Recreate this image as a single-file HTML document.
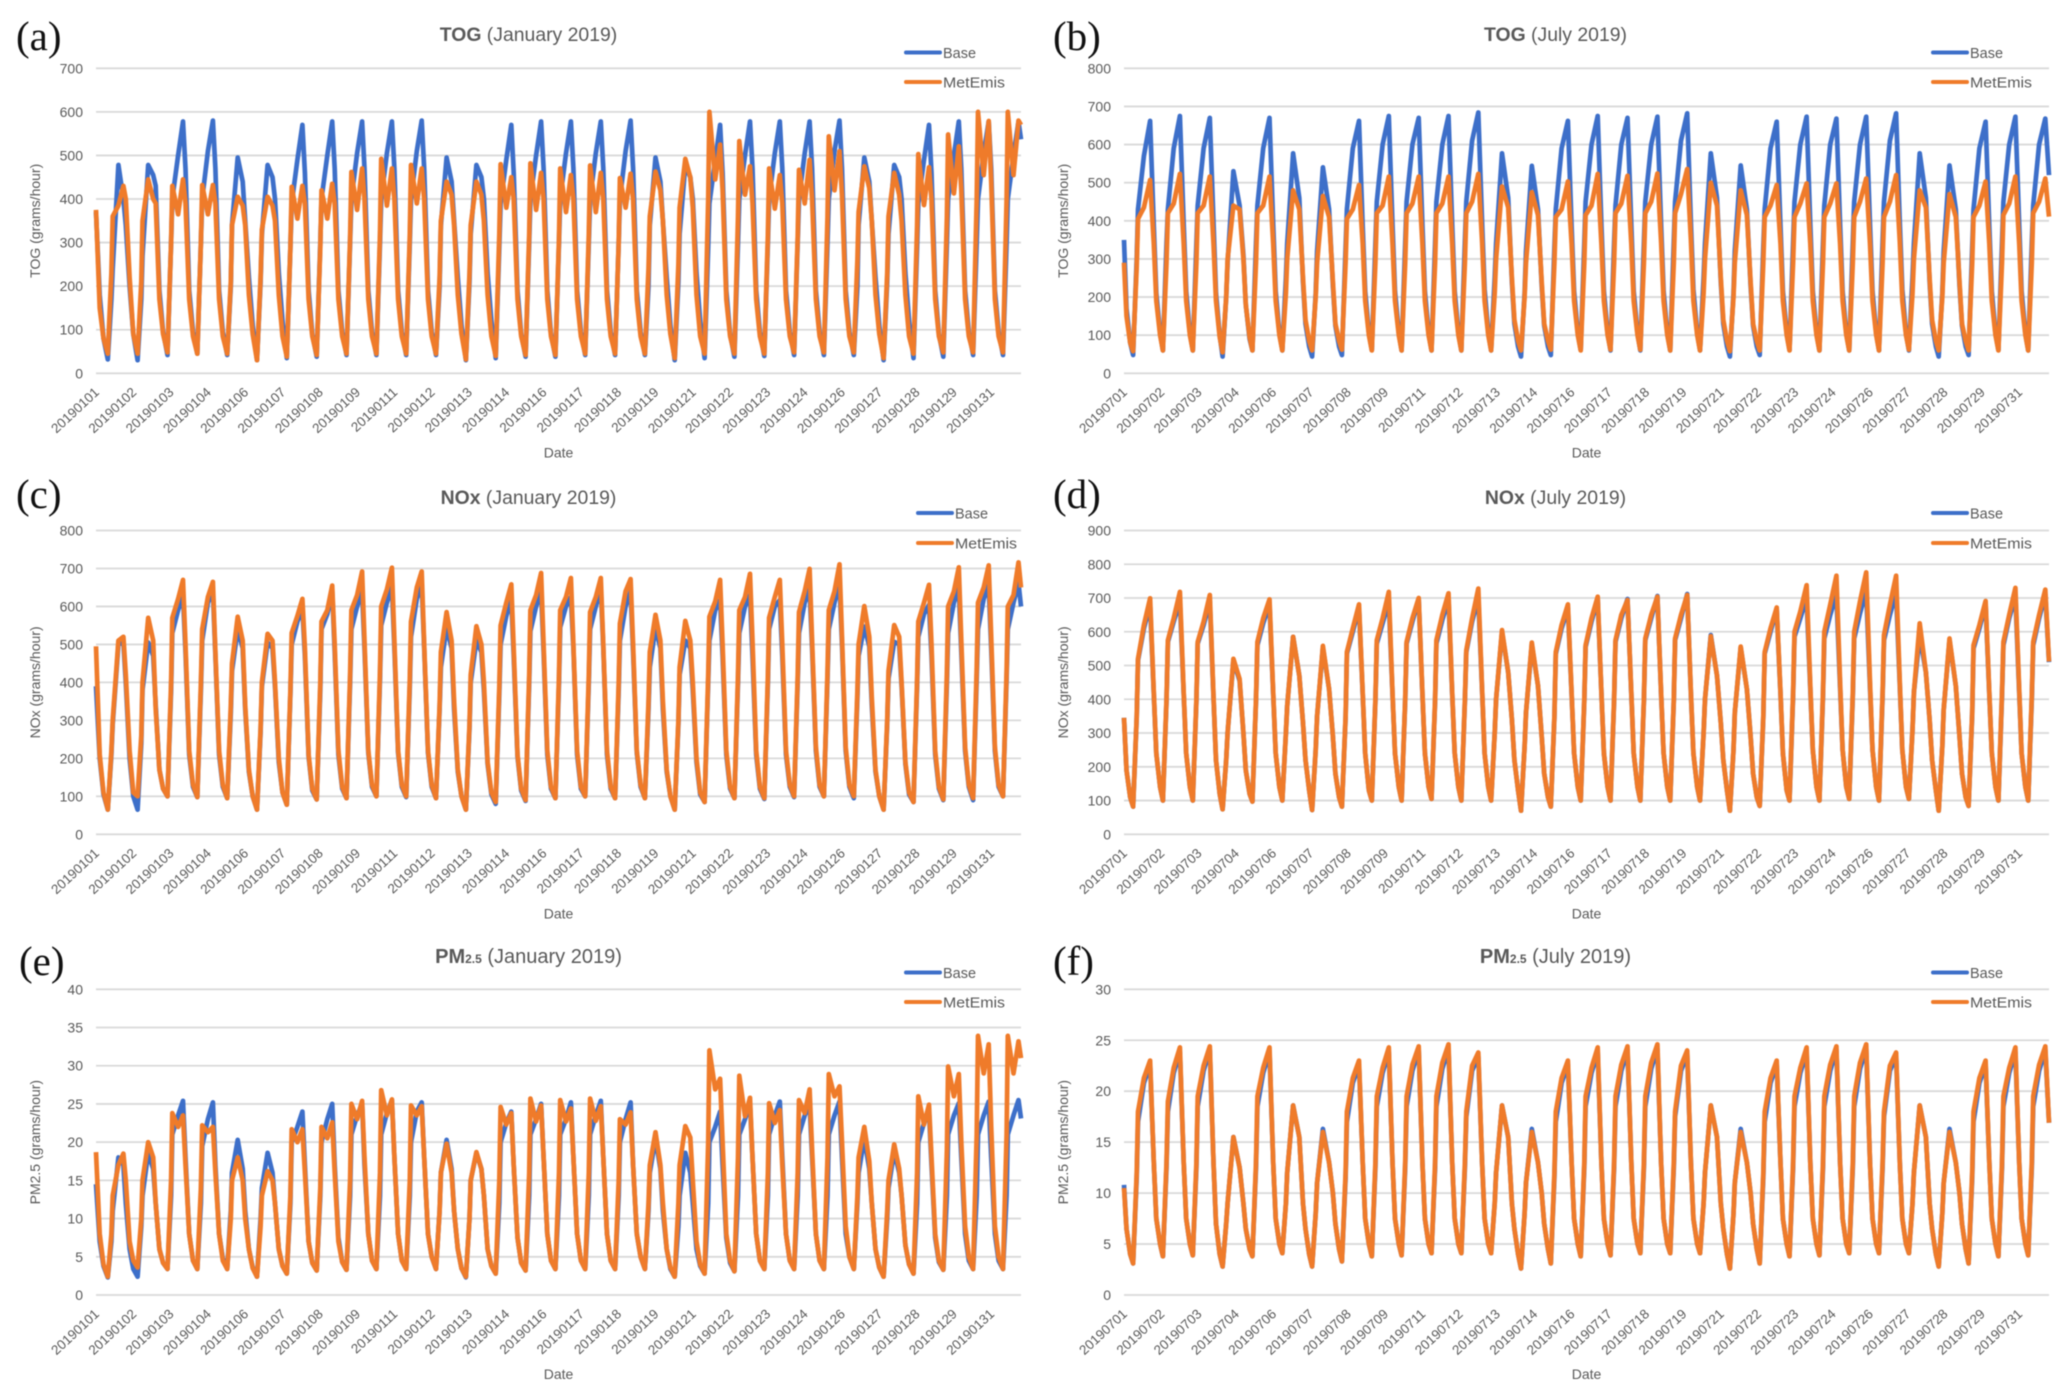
<!DOCTYPE html>
<html lang="en">
<head>
<meta charset="utf-8">
<title>TOG, NOx and PM2.5 emissions, January and July 2019</title>
<style>
html,body{margin:0;padding:0;background:#fff;}
body{width:2067px;height:1396px;overflow:hidden;}
svg{display:block;filter:blur(0.45px);}
text{font-family:"Liberation Sans",sans-serif;fill:#595959;}
.letter{font-family:"Liberation Serif",serif;font-size:41px;fill:#111;}
</style>
</head>
<body>
<svg id="figure" xmlns="http://www.w3.org/2000/svg" width="2067" height="1396" viewBox="0 0 2067 1396"></svg>
<script>
// Sample hours within each day (January and July profiles are read at their own key hours)
const janHours=[0,3,6,9.5,12.4,13.4,18,22];
const julHours=[0,2,5,7.3,10.2,11.3,16,21];
const janTicks=["20190101","20190102","20190103","20190104","20190106","20190107","20190108","20190109","20190111","20190112","20190113","20190114","20190116","20190117","20190118","20190119","20190121","20190122","20190123","20190124","20190126","20190127","20190128","20190129","20190131"];
const julTicks=["20190701","20190702","20190703","20190704","20190706","20190707","20190708","20190709","20190711","20190712","20190713","20190714","20190716","20190717","20190718","20190719","20190721","20190722","20190723","20190724","20190726","20190727","20190728","20190729","20190731"];

const togJanBase=[370,180,80,32,170,240,478,400, 340,200,90,30,170,270,478,455, 430,190,95,42,300,400,500,578, 470,190,95,45,300,400,510,580, 470,190,95,42,200,340,495,440, 350,220,110,30,210,320,478,450, 400,230,120,35,290,390,490,570, 460,190,90,38,300,400,500,578, 470,190,95,42,300,400,505,578, 470,190,95,42,300,400,505,578, 470,190,95,42,300,400,510,580, 470,190,95,42,200,340,495,440, 350,220,110,30,210,320,478,450, 400,230,120,35,290,390,490,570, 460,190,90,38,300,400,500,578, 470,190,90,38,300,400,505,578, 470,190,95,42,300,400,505,578, 470,190,95,42,300,400,510,580, 470,190,95,42,200,340,495,440, 350,220,110,30,210,320,478,450, 400,230,120,35,290,390,490,570, 460,190,90,38,300,400,500,578, 470,190,95,40,300,400,505,578, 470,190,95,42,300,400,505,578, 470,190,95,42,300,400,510,580, 470,190,95,42,200,340,495,440, 350,220,110,30,210,320,478,450, 400,230,120,35,290,390,490,570, 460,190,90,38,300,400,500,578, 470,190,95,42,300,400,505,578, 470,190,95,42,300,400,500,578, 537];
const togJanMetEmis=[375,150,80,45,230,360,385,430, 400,220,90,45,210,350,445,400, 390,170,90,48,300,430,365,445, 390,170,85,45,300,432,365,432, 390,170,85,45,210,340,405,385, 340,180,90,30,220,330,405,385, 350,180,85,38,290,428,355,430, 390,170,85,42,290,420,355,435, 390,170,85,45,310,462,375,470, 400,170,85,45,320,492,385,470, 400,170,85,45,320,478,390,470, 400,170,85,45,220,350,440,410, 340,180,90,32,230,340,440,410, 350,180,85,40,320,480,380,450, 400,170,85,42,320,482,375,460, 400,170,85,42,310,470,370,455, 400,170,85,45,320,477,370,460, 400,170,85,45,300,448,380,458, 400,170,85,45,240,360,463,420, 350,180,90,35,250,380,492,450, 380,180,85,45,400,600,445,525, 420,170,85,45,360,533,410,475, 390,170,85,45,320,470,378,455, 390,170,85,48,315,467,390,490, 400,170,85,48,360,544,420,510, 410,170,85,48,260,370,475,425, 350,180,90,35,230,360,460,410, 350,180,85,45,340,503,386,473, 400,170,85,48,360,548,413,521, 420,170,85,48,400,600,455,579, 440,170,85,48,400,600,455,580, 570];

const togJulBase=[350,170,80,48,300,430,570,662, 385,210,105,60,340,430,590,675, 390,215,105,60,340,440,590,670, 395,210,100,44,200,290,530,440, 310,180,90,60,340,440,590,670, 390,215,105,60,250,340,577,460, 240,130,70,44,210,320,540,430, 230,125,70,48,330,430,590,662, 385,215,105,61,340,450,600,675, 390,215,105,60,340,450,600,670, 390,215,105,60,340,450,600,675, 390,215,105,60,345,450,610,684, 395,220,105,60,250,340,577,460, 240,130,70,44,210,320,544,430, 230,125,70,48,330,430,590,662, 385,215,105,61,340,450,600,675, 390,215,105,60,340,440,600,670, 390,215,105,60,340,450,600,673, 390,215,105,60,345,450,610,682, 395,220,105,60,250,340,577,460, 240,130,70,44,210,320,545,430, 230,125,70,48,330,430,590,660, 385,215,105,61,340,450,600,673, 390,215,105,60,340,440,600,668, 390,215,105,60,340,450,600,673, 390,215,105,60,345,450,610,682, 395,220,105,60,250,340,577,460, 240,130,70,44,210,320,545,430, 230,125,70,48,330,430,590,660, 385,215,105,61,340,450,600,673, 390,215,105,60,340,440,600,668, 520];
const togJulMetEmis=[290,150,80,58,280,405,435,507, 340,190,100,60,290,420,445,523, 340,190,100,60,290,420,440,516, 340,190,95,55,200,300,440,430, 300,180,95,60,290,420,440,516, 340,190,100,60,210,300,480,430, 250,140,85,60,200,290,465,410, 240,130,85,62,290,405,430,494, 340,190,100,60,290,420,440,516, 340,190,100,60,290,420,445,516, 340,190,100,60,290,420,445,516, 340,190,100,60,290,420,450,523, 345,190,100,60,210,300,490,435, 250,140,85,60,200,290,475,415, 240,130,85,62,290,410,430,503, 340,190,100,60,290,415,440,523, 340,190,100,62,290,420,445,518, 340,190,100,62,290,420,450,524, 345,190,100,60,290,420,470,536, 350,190,100,60,210,300,500,440, 250,140,85,58,200,290,480,415, 240,130,85,60,290,410,440,494, 340,190,100,60,290,410,445,498, 340,190,100,60,290,410,445,498, 340,190,100,60,290,410,450,511, 340,190,100,60,290,410,450,520, 345,190,100,62,210,300,480,435, 250,140,85,60,200,290,470,410, 240,130,85,60,290,410,440,503, 340,190,100,60,290,415,445,516, 340,190,100,60,290,420,450,511, 411];

const noxJanBase=[390,200,105,65,210,290,500,505, 400,200,100,65,240,380,505,470, 340,170,120,100,380,530,590,630, 480,210,125,98,380,510,610,640, 470,210,125,95,320,430,540,490, 330,165,100,65,270,390,505,490, 390,190,110,78,370,500,560,595, 470,205,115,92,380,540,580,640, 480,210,120,95,400,540,600,640, 490,215,125,100,410,550,610,655, 490,215,125,98,390,520,620,660, 490,215,125,95,330,440,545,490, 330,165,100,65,280,400,510,480, 380,185,105,80,370,500,575,620, 470,205,115,88,400,535,600,640, 480,210,120,95,400,545,600,625, 490,210,120,100,400,540,600,650, 490,210,120,95,380,510,600,640, 480,215,125,95,330,440,545,490, 330,165,100,65,290,420,510,490, 380,190,105,85,400,510,590,617, 470,210,120,95,400,530,600,630, 470,210,120,93,400,540,600,617, 470,210,125,98,400,530,610,645, 490,220,125,100,410,540,610,661, 500,220,125,95,360,470,547,495, 340,165,100,65,290,410,507,500, 390,185,105,85,390,520,580,604, 470,210,120,90,400,530,610,650, 480,220,125,90,410,540,620,656, 490,220,125,100,410,540,610,661, 600];
const noxJanMetEmis=[495,210,110,65,220,300,510,520, 420,220,110,100,260,400,570,510, 330,170,120,100,400,570,620,670, 500,220,130,98,400,540,625,665, 480,220,130,95,340,450,573,510, 340,170,100,65,280,400,528,510, 400,200,110,78,380,530,575,620, 490,210,120,92,400,560,590,655, 500,220,125,95,420,590,630,692, 510,220,130,100,430,600,645,702, 510,220,130,100,410,560,650,692, 500,220,130,95,340,480,585,510, 350,170,100,65,290,420,548,500, 400,190,110,85,390,550,610,658, 490,210,120,90,420,590,630,688, 500,220,125,95,420,590,625,675, 500,220,125,100,420,585,625,675, 500,220,125,95,400,555,640,672, 500,220,130,95,350,480,578,510, 350,170,100,65,300,440,562,510, 400,200,110,85,420,573,613,670, 500,220,125,95,420,590,625,686, 510,220,125,95,420,570,625,670, 500,220,130,100,420,585,640,699, 510,230,130,100,430,590,640,711, 520,230,130,100,380,500,601,520, 360,170,100,65,300,430,551,520, 400,190,110,85,410,560,610,657, 500,220,125,92,430,600,640,703, 510,230,130,95,440,610,650,708, 520,230,130,100,430,600,630,716, 650];

const noxJulBase=[345,190,110,82,345,515,610,680, 415,240,140,100,395,570,630,690, 415,240,140,100,395,565,620,690, 405,220,120,74,220,300,515,455, 300,190,120,97,395,560,625,680, 415,240,140,100,300,380,585,470, 330,220,130,72,250,350,553,430, 290,180,110,82,345,535,600,670, 415,240,130,100,395,565,625,690, 415,240,140,100,395,565,630,695, 415,240,140,105,395,565,635,695, 415,240,140,100,395,540,630,700, 425,240,140,100,300,400,600,480, 340,220,130,70,260,360,563,440, 290,180,110,82,345,535,610,670, 415,240,140,100,395,555,630,695, 420,240,140,100,395,570,640,697, 415,240,140,100,395,575,640,706, 415,240,140,100,395,575,640,712, 415,240,140,100,300,400,590,470, 330,220,130,70,250,360,553,430, 290,180,110,84,345,535,600,665, 415,240,130,100,410,585,640,700, 430,250,140,100,410,580,650,710, 435,250,140,105,410,580,655,720, 435,250,140,100,410,575,650,715, 440,250,140,105,310,420,590,480, 340,220,130,70,260,370,575,440, 290,180,110,84,355,550,610,680, 415,240,140,100,410,560,640,705, 420,240,140,100,400,560,640,710, 510];
const noxJulMetEmis=[345,190,110,82,350,520,620,699, 420,240,140,100,400,575,640,718, 420,240,140,100,400,570,630,709, 410,220,120,74,220,300,520,460, 300,190,120,97,400,570,640,696, 420,240,140,100,300,380,585,470, 330,220,130,72,250,350,558,430, 290,180,110,82,350,540,610,681, 420,240,130,100,400,575,640,718, 420,240,140,100,400,570,640,700, 420,240,140,105,400,575,650,714, 420,240,140,100,400,545,640,728, 430,240,140,100,300,400,605,480, 340,220,130,70,260,360,568,440, 290,180,110,82,350,540,620,681, 420,240,140,100,400,560,640,704, 420,240,140,100,400,575,650,694, 420,240,140,100,400,580,650,704, 420,240,140,100,400,580,650,709, 420,240,140,100,300,400,587,470, 330,220,130,70,250,360,556,430, 290,180,110,84,350,540,610,672, 420,240,130,100,420,600,660,738, 440,250,140,100,420,600,680,766, 450,250,140,105,420,600,690,776, 450,250,140,100,420,590,680,766, 450,250,140,105,310,420,625,480, 340,220,130,70,260,370,580,440, 290,180,110,84,360,560,620,691, 420,240,140,100,420,570,650,730, 430,240,140,100,410,570,650,725, 512];

const pmJanBase=[14.5,7,3.8,2.3,7,11,18,17, 12,6,3.4,2.4,9,13,18.6,16.5, 12,6,4.2,3.4,13,21,23.5,25.4, 18,8,4.5,3.4,12,19.5,23,25.2, 17,8,4.8,3.4,11,16,20.3,16.5, 11,6,3.6,2.4,10,14,18.6,16, 12,6,3.8,2.8,12,20,22,24, 17,7,4.2,3.2,13,20,23,25, 17,7.5,4.3,3.3,13,21,23.5,25, 17,8,4.5,3.4,13,21,23.8,25.5, 18,8,4.5,3.4,13,20,24,25.2, 18,8,5,3.4,11,16,20.3,16.5, 11,6,3.5,2.3,10,15,18.6,16.5, 13,6,3.8,2.8,12,20,22.5,24, 17,7.5,4.2,3.2,13,21,23,25, 18,8,4.5,3.4,13,21,23,25.2, 18,8,4.5,3.4,13,21,23.5,25.4, 18,8,4.5,3.4,13,20,23,25.2, 17,8,5,3.4,11,16,20.5,16.5, 11,6,3.4,2.4,9,13,18.6,16, 12,6,3.8,2.8,12,20,22,24, 17,7.5,4.2,3.1,13,21,23,25, 18,8,4.5,3.4,13,21,23.5,25.3, 18,8,4.5,3.4,13,21,23.5,25, 18,8,4.5,3.4,13,21,23.5,25.3, 18,8,5,3.4,12,16,20.5,16.5, 12,6,3.6,2.4,10,14,18.8,16, 13,6.5,4,2.8,12,20,22.5,24, 17,7.5,4.3,3.3,13,21,23.5,25.1, 18,8,4.5,3.4,13,21,23.5,25.3, 18,8,4.5,3.4,13,21,23.5,25.5, 23.1];
const pmJanMetEmis=[18.7,8,4,2.4,8,13,17,18.5, 15,7,4.5,3.6,10,15,20,18, 12,6,4.2,3.4,15,23.8,22,23.5, 17,8,4.5,3.4,14,22.2,21.3,22, 16,8,4.5,3.4,10,15,18,15, 10,6,3.5,2.4,9,13,16.2,15, 12,6,3.8,2.8,13,21.7,20,21.7, 16,7,4.2,3.2,14,22,20.5,22.6, 16,7,4.3,3.3,15,25,23,25.4, 18,8,4.5,3.4,16,26.8,23.5,25.6, 18,8,4.5,3.4,15,24.8,23.5,24.7, 18,8,5,3.4,11,16,19.8,16, 11,6,3.5,2.4,10,15,18.7,16.5, 13,6,3.8,2.8,15,24.6,22.3,23.8, 17,7.5,4.2,3.2,16,25.7,22.7,24.8, 18,8,4.5,3.4,16,25.5,22.7,24.4, 18,8,4.5,3.4,16,25.7,22.8,24.7, 18,8,4.5,3.4,15,23,22.3,23.9, 17,8,5,3.4,12,17,21.3,17, 12,6,3.6,2.4,12,17,22.1,20.6, 15,7,4,2.8,20,32,26.9,28.3, 20,8,4.5,3.1,18,28.7,23.4,25.8, 18,8,4.5,3.4,16,25.1,22.5,24.2, 17,8,4.5,3.4,16,25.5,23.8,26.9, 19,8,4.5,3.4,18,28.9,26,27.3, 20,9,5,3.4,13,18,22,17.5, 12,6,3.6,2.4,11,15,19.7,16.5, 13,6.5,4,2.8,16,26,22.3,24.9, 18,8,4.5,3.3,19,29.9,26,28.9, 20,9,5,3.4,21,33.9,29,32.8, 22,9,5,3.4,21,33.9,29,33.2, 31];

const pmJulBase=[10.8,6.5,4,3.1,11.5,17,20.8,22.6, 13,7.5,5,3.8,12.5,18,21.8,23.8, 13,7.5,5,3.9,12.5,18.5,22,24, 13,7,4,2.8,7,9,15.5,12.5, 9,6.5,4.5,3.8,12.5,18.5,21.8,23.8, 13,7.5,5,4.1,9,12,18.6,15.5, 9,6.5,4,2.8,8,11,16.3,13, 10,7,4.5,3.3,11.5,17,20.8,22.6, 13,7.5,5,3.8,12.5,18.5,21.8,23.8, 13,7.5,5,3.9,12.5,18.5,22,24, 13,7.5,5,4.1,12.5,18.5,22.2,24.1, 13,7.5,5,4.1,12.5,17.5,22,23.4, 13,7.5,5,4.1,9,12,18.6,15.5, 9,6.5,4,2.6,8,11,16.3,13, 10,7,4.5,3.1,11.5,17,20.8,22.6, 13,7.5,5,3.8,12.5,18.5,21.8,23.8, 13,7.5,5,3.9,12.5,18.5,22,24, 13,7.5,5,4.1,12.5,18.5,22.2,24.1, 13,7.5,5,4.1,12.5,17.5,22,23.6, 13,7.5,5,4.1,9,12,18.6,15.5, 9,6.5,4,2.6,8,11,16.3,13, 10,7,4.5,3.1,11.5,17,20.8,22.6, 13,7.5,5,3.8,12.5,18.5,21.8,23.8, 13,7.5,5,3.9,12.5,18.5,22,24, 13,7.5,5,4.1,12.5,18.5,22.2,24.1, 13,7.5,5,4.1,12.5,17.5,22,23.4, 13,7.5,5,4.1,9,12,18.6,15.5, 9,6.5,4,2.8,8,11,16.3,13, 10,7,4.5,3.1,11.5,17,20.8,22.6, 13,7.5,5,3.8,12.5,18.5,21.8,23.8, 13,7.5,5,3.9,12.5,18.5,22,24, 16.9];
const pmJulMetEmis=[10.5,6.5,4,3.1,12,18,21.3,23, 13,7.5,5,3.8,13,19,22.3,24.3, 13,7.5,5,3.9,13,19.5,22.5,24.4, 13,7,4,2.8,7,9,15.5,12.5, 9,6.5,4.5,3.8,13,19.5,22.3,24.3, 13,7.5,5,4.1,9,12,18.6,15.5, 9,6.5,4,2.8,8,11,16,13, 10,7,4.5,3.3,12,18,21.3,23, 13,7.5,5,3.8,13,19.5,22.3,24.3, 13,7.5,5,3.9,13,19.5,22.6,24.4, 13,7.5,5,4.1,13,19.5,22.8,24.6, 13,7.5,5,4.1,13,18,22.5,23.8, 13,7.5,5,4.1,9,12,18.6,15.5, 9,6.5,4,2.6,8,11,16,13, 10,7,4.5,3.1,12,18,21.3,23, 13,7.5,5,3.8,13,19.5,22.3,24.3, 13,7.5,5,3.9,13,19.5,22.6,24.4, 13,7.5,5,4.1,13,19.5,22.8,24.6, 13,7.5,5,4.1,13,18,22.5,24, 13,7.5,5,4.1,9,12,18.6,15.5, 9,6.5,4,2.6,8,11,16,13, 10,7,4.5,3.1,12,18,21.3,23, 13,7.5,5,3.8,13,19.5,22.3,24.3, 13,7.5,5,3.9,13,19.5,22.6,24.4, 13,7.5,5,4.1,13,19.5,22.8,24.6, 13,7.5,5,4.1,13,18,22.5,23.8, 13,7.5,5,4.1,9,12,18.6,15.5, 9,6.5,4,2.8,8,11,16,13, 10,7,4.5,3.1,12,18,21.3,23, 13,7.5,5,3.8,13,19.5,22.3,24.3, 13,7.5,5,3.9,13,19.5,22.6,24.4, 16.9];

const NS='http://www.w3.org/2000/svg';
const fig=document.getElementById('figure');
const BASE_COLOR='#3d6fc9';
const MET_COLOR='#ef7b2a';
const TOTAL_HOURS=744;

function mk(tag,parent){const e=document.createElementNS(NS,tag);parent.appendChild(e);return e;}
function put(e,props){for(const k in props)e.setAttribute(k,props[k]);return e;}

function drawPanel(p){
  const g=mk('g',fig);
  
  
  const xScale=function(hour){return p.left+hour*(p.right-p.left)/TOTAL_HOURS;};
  const yScale=function(v){return p.y0+(p.yTop-p.y0)*v/p.max;};

  const letter=mk('text',g);
  put(letter,{x:p.letterX,y:p.letterY,'class':'letter'});
  
  
  letter.textContent='('+p.id+')';

  const title=mk('text',g);
  put(title,{x:(p.left+p.right)/2+(p.titleShift||0),y:p.titleY,'text-anchor':'middle','font-size':p.sub?'20':'19.4'});
  
  
  const t1=mk('tspan',title);
  t1.setAttribute('font-weight','bold');
  t1.textContent=p.species;
  if(p.sub){const t2=mk('tspan',title);put(t2,{'font-weight':'bold','font-size':'12'});t2.textContent=p.sub;}
  const t3=mk('tspan',title);
  t3.textContent=' ('+p.period+')';

  for(let v=0;v<=p.max;v+=p.step){
    const line=mk('line',g);
    put(line,{x1:p.left,x2:p.right,y1:yScale(v),y2:yScale(v),stroke:'#d9d9d9','stroke-width':1.8});
    
    
    const lab=mk('text',g);
    put(lab,{x:p.left-13,y:yScale(v)+5,'text-anchor':'end','font-size':'14'});
    
    
    lab.textContent=v;
  }

  p.ticks.forEach(function(label,i){
    const tx=xScale(i*30)+4;
    const ty=p.y0+20;
    const lab=mk('text',g);
    put(lab,{x:tx,y:ty,'text-anchor':'end','font-size':'13.4',transform:'rotate(-43 '+tx+' '+ty+')'});
    
    
    lab.textContent=label;
  });

  const yt=mk('text',g);
  put(yt,{x:0,y:0,'text-anchor':'middle','font-size':'14',transform:'translate('+(p.left-56)+' '+(p.yTop+p.y0)/2+') rotate(-90)'});
  
  
  yt.textContent=p.yLabel;

  const xt=mk('text',g);
  put(xt,{x:(p.left+p.right)/2,y:p.y0+84,'text-anchor':'middle','font-size':'14'});
  
  
  xt.textContent='Date';

  [[p.base,BASE_COLOR,'base-series'],[p.met,MET_COLOR,'metemis-series']].forEach(function(s){
    const pts=s[0].map(function(v,i){
      const day=Math.floor(i/p.hours.length);
      const hour=p.hours[i%p.hours.length];
      return xScale(day*24+hour).toFixed(1)+','+yScale(v).toFixed(1);
    }).join(' ');
    const poly=mk('polyline',g);
    put(poly,{points:pts,fill:'none',stroke:s[1],'stroke-width':4.7,'stroke-linejoin':'round','stroke-linecap':'butt'});
    
    
  });

  const legend=mk('g',g);
  
  
  [['Base',BASE_COLOR,p.legY1,33],['MetEmis',MET_COLOR,p.legY2,62]].forEach(function(l){
    const key=mk('line',legend);
    put(key,{x1:p.legX,x2:p.legX+34,y1:l[2],y2:l[2],stroke:l[1],'stroke-width':4,'stroke-linecap':'round'});
    
    
    const txt=mk('text',legend);
    put(txt,{x:p.legX+37,y:l[2]+5.5,'font-size':'15',textLength:l[3],lengthAdjust:'spacingAndGlyphs'});
    
    
    txt.textContent=l[0];
  });
}

const panels=[
 {id:'a',species:'TOG',period:'January 2019',yLabel:'TOG (grams/hour)',left:96,right:1021,yTop:68.3,y0:373.3,max:700,step:100,hours:janHours,ticks:janTicks,base:togJanBase,met:togJanMetEmis,letterX:16,letterY:50,titleY:41,titleShift:-30,legX:906,legY1:52.5,legY2:82},
 {id:'b',species:'TOG',period:'July 2019',yLabel:'TOG (grams/hour)',left:1124,right:2049,yTop:68.3,y0:373.3,max:800,step:100,hours:julHours,ticks:julTicks,base:togJulBase,met:togJulMetEmis,letterX:1053,letterY:50,titleY:41,titleShift:-31,legX:1933,legY1:52.5,legY2:82},
 {id:'c',species:'NOx',period:'January 2019',yLabel:'NOx (grams/hour)',left:96,right:1021,yTop:530.5,y0:834.3,max:800,step:100,hours:janHours,ticks:janTicks,base:noxJanBase,met:noxJanMetEmis,letterX:16,letterY:508,titleY:504,titleShift:-30,legX:918,legY1:513,legY2:543},
 {id:'d',species:'NOx',period:'July 2019',yLabel:'NOx (grams/hour)',left:1124,right:2049,yTop:530.5,y0:834.3,max:900,step:100,hours:julHours,ticks:julTicks,base:noxJulBase,met:noxJulMetEmis,letterX:1053,letterY:508,titleY:504,titleShift:-31,legX:1933,legY1:513,legY2:543},
 {id:'e',species:'PM',sub:'2.5',period:'January 2019',yLabel:'PM2.5 (grams/hour)',left:96,right:1021,yTop:989.3,y0:1295,max:40,step:5,hours:janHours,ticks:janTicks,base:pmJanBase,met:pmJanMetEmis,letterX:19,letterY:975,titleY:963,titleShift:-30,legX:906,legY1:972.5,legY2:1002},
 {id:'f',species:'PM',sub:'2.5',period:'July 2019',yLabel:'PM2.5 (grams/hour)',left:1124,right:2049,yTop:989.3,y0:1295,max:30,step:5,hours:julHours,ticks:julTicks,base:pmJulBase,met:pmJulMetEmis,letterX:1053,letterY:975,titleY:963,titleShift:-31,legX:1933,legY1:972.5,legY2:1002}
];
panels.forEach(drawPanel);
</script>
</body>
</html>
